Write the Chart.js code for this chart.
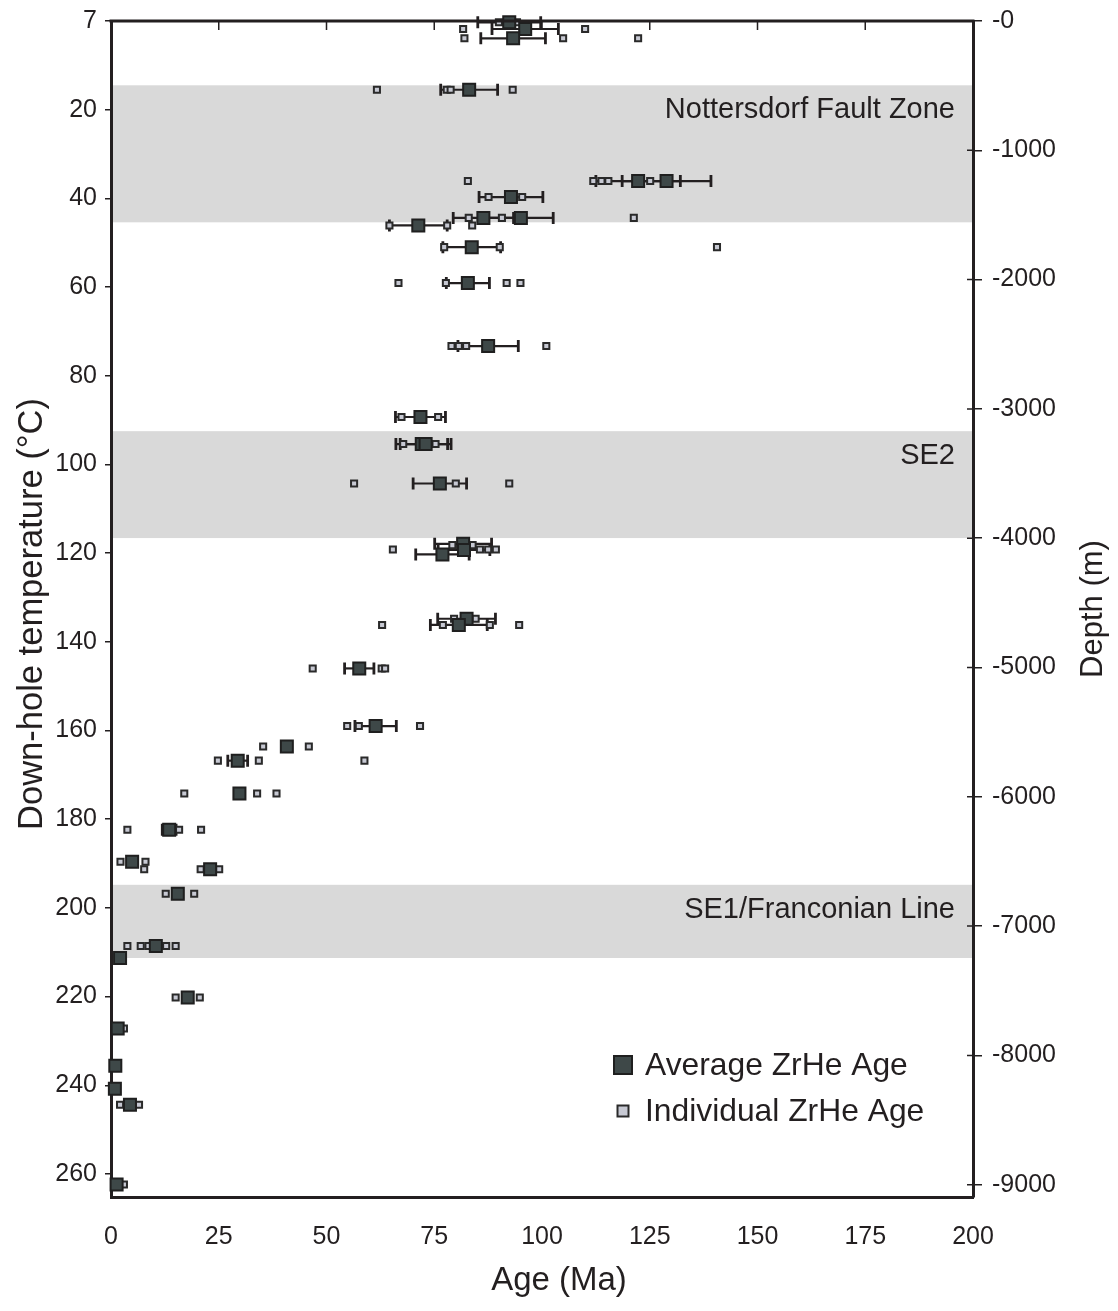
<!DOCTYPE html>
<html>
<head>
<meta charset="utf-8">
<title>ZrHe ages versus down-hole temperature</title>
<script src="https://cdn.jsdelivr.net/npm/chart.js@4.4.1/dist/chart.umd.min.js"></script>
<style>
  html, body { margin: 0; padding: 0; background: #ffffff; }
  #wrap { width: 1118px; height: 1311px; position: relative; }
</style>
</head>
<body>
<div id="wrap"><canvas id="c"></canvas></div>
<script>
// Average ZrHe ages (Ma), sample temperature (°C) and error half-width (Ma)
const avgAge  = [92.4, 96.1, 93.3, 83.1, 122.3, 128.9, 92.8, 86.4, 95.1, 71.3, 83.7, 82.8, 87.5, 71.8, 72.1, 73.0, 76.3, 81.7, 81.9, 76.9, 82.5, 80.7, 57.6, 61.4, 40.8, 29.4, 29.8, 13.5, 4.9, 23.0, 15.5, 10.4, 2.1, 17.8, 1.55, 1.0, 0.9, 4.4, 1.3];
const avgTemp = [0.3, 1.8, 3.9, 15.5, 36.1, 36.1, 39.7, 44.4, 44.4, 46.1, 51.0, 59.1, 73.3, 89.3, 95.4, 95.4, 104.3, 117.9, 119.3, 120.3, 134.8, 136.2, 146.0, 159.0, 163.6, 166.8, 174.2, 182.4, 189.6, 191.3, 196.8, 208.6, 211.3, 220.2, 227.2, 235.6, 240.8, 244.4, 262.4];
const avgErr  = [7.3, 7.7, 7.5, 6.6, 9.8, 10.3, 7.4, 7.0, 7.5, 6.7, 6.7, 5.0, 7.0, 5.8, 6.0, 5.9, 6.2, 6.6, 6.0, 6.2, 6.7, 6.6, 3.4, 4.8, 0, 2.3, 0, 1.6, 0, 0, 0, 0, 0, 0, 0, 0, 0, 0, 0];

// Individual grain ages (Ma) and sample temperature (°C)
const indAge  = [90.0, 94.2, 81.7, 110.0, 82.0, 104.9, 122.3, 61.7, 77.9, 78.8, 93.2,
                 82.8, 111.9, 113.8, 115.4, 125.1, 87.6, 95.4, 83.0, 90.7, 121.3,
                 64.6, 78.0, 83.8, 77.3, 90.2, 140.6, 66.7, 77.7, 91.8, 95.0,
                 79.0, 80.7, 82.4, 101.0, 67.4, 75.9, 67.8, 75.3, 56.4, 80.0, 92.4,
                 65.4, 79.2, 83.9, 85.6, 87.5, 89.3, 79.6, 84.6, 62.9, 77.0, 87.9, 94.7,
                 46.8, 62.8, 63.6, 54.8, 57.5, 71.7, 35.3, 45.9, 24.8, 34.3, 58.8,
                 17.0, 33.9, 38.4, 3.8, 15.8, 20.9, 2.2, 8.0, 7.7, 20.8, 25.1,
                 12.7, 19.3, 3.8, 6.9, 8.7, 12.8, 15.0, 15.0, 20.6, 3.0, 2.1, 6.5, 3.0];
const indTemp = [0.3, 0.3, 1.8, 1.8, 3.9, 3.9, 3.9, 15.5, 15.5, 15.5, 15.5,
                 36.1, 36.1, 36.1, 36.1, 36.1, 39.7, 39.7, 44.4, 44.4, 44.4,
                 46.1, 46.1, 46.1, 51.0, 51.0, 51.0, 59.1, 59.1, 59.1, 59.1,
                 73.3, 73.3, 73.3, 73.3, 89.3, 89.3, 95.4, 95.4, 104.3, 104.3, 104.3,
                 119.2, 118.2, 118.2, 119.2, 119.2, 119.2, 134.8, 134.8, 136.2, 136.2, 136.2, 136.2,
                 146.0, 146.0, 146.0, 159.0, 159.0, 159.0, 163.6, 163.6, 166.8, 166.8, 166.8,
                 174.2, 174.2, 174.2, 182.4, 182.4, 182.4, 189.6, 189.6, 191.3, 191.3, 191.3,
                 196.8, 196.8, 208.6, 208.6, 208.6, 208.6, 208.6, 220.2, 220.2, 227.2, 244.4, 244.4, 262.4];

// Fault zones crossed by the borehole (°C interval)
const zoneNames  = ['Nottersdorf Fault Zone', 'SE2', 'SE1/Franconian Line'];
const zoneTop    = [14.5, 92.5, 194.8];
const zoneBottom = [45.4, 116.6, 211.3];

// Axis ticks
const ageTicks        = [0, 25, 50, 75, 100, 125, 150, 175, 200];
const tempTicks       = [0, 20, 40, 60, 80, 100, 120, 140, 160, 180, 200, 220, 240, 260];
const tempTickLabels  = ['7', '20', '40', '60', '80', '100', '120', '140', '160', '180', '200', '220', '240', '260'];
const depthTicks      = [0, -1000, -2000, -3000, -4000, -5000, -6000, -7000, -8000, -9000];
const depthTickLabels = ['-0', '-1000', '-2000', '-3000', '-4000', '-5000', '-6000', '-7000', '-8000', '-9000'];

const FONT = '"Liberation Sans", Arial, Helvetica, sans-serif';
const INK = '#231f20';
const AVG_FILL = '#3e4848', AVG_EDGE = '#1f1f1f';
const IND_FILL = '#c7c9d3', IND_EDGE = '#2a2a2a';

const avgPoints = avgAge.map((a, i) => ({ x: a, y: avgTemp[i] }));
const indPoints = indAge.map((a, i) => ({ x: a, y: indTemp[i] }));

// Shaded fault zones with their names
const zonePlugin = {
  id: 'zones',
  beforeDraw(chart) {
    const { ctx, chartArea: ca, scales: { y } } = chart;
    ctx.save();
    ctx.fillStyle = '#d9d9d9';
    zoneNames.forEach((name, i) => {
      const t = y.getPixelForValue(zoneTop[i]);
      const b = y.getPixelForValue(zoneBottom[i]);
      ctx.fillRect(ca.left, t, ca.right - ca.left, b - t);
    });
    ctx.fillStyle = INK;
    ctx.font = '29px ' + FONT;
    ctx.textAlign = 'right';
    ctx.textBaseline = 'middle';
    zoneNames.forEach((name, i) => {
      const t = y.getPixelForValue(zoneTop[i]);
      ctx.fillText(name, ca.right - 18, t + 25);
    });
    ctx.restore();
  }
};

// Horizontal error bars on the average ages
const errorBarPlugin = {
  id: 'errorBars',
  beforeDatasetsDraw(chart) {
    const { ctx, scales: { x, y } } = chart;
    ctx.save();
    ctx.strokeStyle = INK;
    avgAge.forEach((a, i) => {
      const e = avgErr[i];
      if (!e) return;
      const py = y.getPixelForValue(avgTemp[i]);
      const x0 = x.getPixelForValue(a - e);
      const x1 = x.getPixelForValue(a + e);
      ctx.lineWidth = 2.2;
      ctx.beginPath();
      ctx.moveTo(x0, py); ctx.lineTo(x1, py);
      ctx.stroke();
      ctx.lineWidth = 2.8;
      ctx.beginPath();
      ctx.moveTo(x0, py - 6); ctx.lineTo(x0, py + 6);
      ctx.moveTo(x1, py - 6); ctx.lineTo(x1, py + 6);
      ctx.stroke();
    });
    ctx.restore();
  }
};

// Frame, inner ticks, axis titles and legend
const framePlugin = {
  id: 'frame',
  afterDraw(chart) {
    const { ctx, chartArea: ca, scales: { x, y2 } } = chart;
    ctx.save();
    ctx.strokeStyle = INK;
    ctx.lineWidth = 3;
    ctx.beginPath();
    ctx.moveTo(ca.left - 1.5, ca.top); ctx.lineTo(ca.right + 1.5, ca.top);
    ctx.stroke();
    ctx.lineWidth = 1.5;
    ctx.beginPath();
    ageTicks.slice(1, -1).forEach(v => {
      const px = x.getPixelForValue(v);
      ctx.moveTo(px, ca.top); ctx.lineTo(px, ca.top + 9);
    });
    depthTicks.slice(1).forEach(v => {
      const py = y2.getPixelForValue(v);
      ctx.moveTo(ca.right, py); ctx.lineTo(ca.right - 6, py);
    });
    ctx.stroke();

    // axis titles
    ctx.fillStyle = INK;
    ctx.textAlign = 'center';
    ctx.textBaseline = 'middle';
    const midY = (ca.top + ca.bottom) / 2;
    ctx.font = '33px ' + FONT;
    ctx.fillText('Age (Ma)', chart.width / 2, 1281);
    ctx.save();
    ctx.font = '34.5px ' + FONT;
    ctx.translate(32, midY + 5);
    ctx.rotate(-Math.PI / 2);
    ctx.fillText('Down-hole temperature (°C)', 0, 0);
    ctx.restore();
    ctx.save();
    ctx.font = '31px ' + FONT;
    ctx.translate(1093, midY);
    ctx.rotate(-Math.PI / 2);
    ctx.fillText('Depth (m)', 0, 0);
    ctx.restore();

    // legend
    const ds = chart.data.datasets;
    const lx = ca.right - 350, ly = ca.bottom - 132;
    const entries = [
      { label: ds[0].label, size: 18, fill: AVG_FILL, edge: AVG_EDGE, dy: 0 },
      { label: ds[1].label, size: 11, fill: IND_FILL, edge: IND_EDGE, dy: 46 }
    ];
    ctx.textAlign = 'left';
    entries.forEach(en => {
      const cx = lx, cy = ly + en.dy;
      ctx.fillStyle = en.fill;
      ctx.fillRect(cx - en.size / 2, cy - en.size / 2, en.size, en.size);
      ctx.lineWidth = 2;
      ctx.strokeStyle = en.edge;
      ctx.strokeRect(cx - en.size / 2, cy - en.size / 2, en.size, en.size);
      ctx.fillStyle = INK;
      ctx.font = '31.8px ' + FONT;
      ctx.fillText(en.label, lx + 22, cy + 1);
    });
    ctx.restore();
  }
};

// keep the plot frame fixed; labels may overhang into the margins
const noVerticalPadding = s => { s.paddingTop = 0; s.paddingBottom = 0; };

new Chart(document.getElementById('c'), {
  type: 'scatter',
  data: {
    datasets: [
      {
        label: 'Average ZrHe Age',
        data: avgPoints,
        yAxisID: 'y',
        pointStyle: 'rect',
        pointRadius: 8.5,
        pointBackgroundColor: AVG_FILL,
        pointBorderColor: AVG_EDGE,
        pointBorderWidth: 2,
        clip: false
      },
      {
        label: 'Individual ZrHe Age',
        data: indPoints,
        yAxisID: 'y',
        pointStyle: 'rect',
        pointRadius: 4.3,
        pointBackgroundColor: IND_FILL,
        pointBorderColor: IND_EDGE,
        pointBorderWidth: 2,
        clip: false
      }
    ]
  },
  options: {
    responsive: true,
    maintainAspectRatio: false,
    animation: false,
    events: [],
    layout: { padding: { top: 21, left: 0, right: 0, bottom: 0 } },
    plugins: { legend: { display: false }, tooltip: { enabled: false } },
    scales: {
      x: {
        type: 'linear',
        position: 'bottom',
        min: 0, max: 200,
        afterBuildTicks: s => { s.ticks = ageTicks.map(v => ({ value: v })); },
        afterFit: s => { s.height = 114; s.paddingLeft = 0; s.paddingRight = 0; },
        grid: { display: true, drawOnChartArea: false, drawTicks: false },
        border: { display: true, color: INK, width: 3 },
        ticks: { color: INK, font: { family: FONT, size: 25 }, padding: 25, maxRotation: 0 }
      },
      y: {
        type: 'linear',
        position: 'left',
        reverse: true,
        min: 0, max: 265.2,
        afterBuildTicks: s => { s.ticks = tempTicks.map(v => ({ value: v })); },
        afterFit: s => { s.width = 111; noVerticalPadding(s); },
        grid: { display: true, drawOnChartArea: false, drawTicks: true, tickLength: 6, color: INK, lineWidth: 1.5 },
        border: { display: true, color: INK, width: 3 },
        ticks: {
          color: INK, font: { family: FONT, size: 25 }, padding: 8,
          callback: v => tempTickLabels[tempTicks.indexOf(v)]
        }
      },
      y2: {
        type: 'linear',
        position: 'right',
        min: -9095, max: 0,
        afterBuildTicks: s => { s.ticks = depthTicks.map(v => ({ value: v })); },
        afterFit: s => { s.width = 145; noVerticalPadding(s); },
        grid: { display: true, drawOnChartArea: false, drawTicks: true, tickLength: 9, color: INK, lineWidth: 1.5 },
        border: { display: true, color: INK, width: 3 },
        ticks: {
          color: INK, font: { family: FONT, size: 25 }, padding: 10,
          callback: v => depthTickLabels[depthTicks.indexOf(v)]
        }
      }
    }
  },
  plugins: [zonePlugin, errorBarPlugin, framePlugin]
});
</script>
</body>
</html>
